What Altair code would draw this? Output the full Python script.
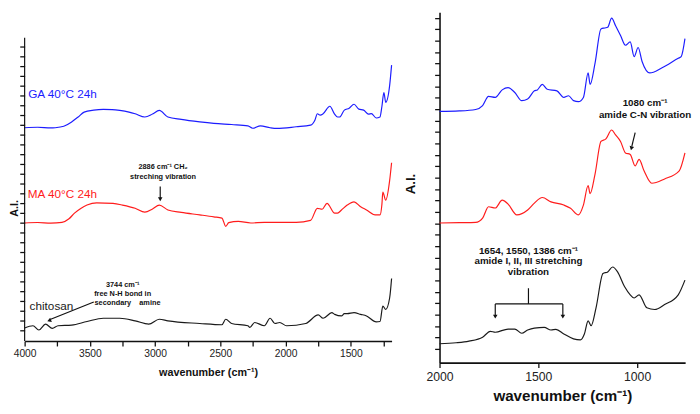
import altair as alt
import pandas as pd

FONT = "Liberation Sans"
SERIES = ["GA 40°C 24h", "MA 40°C 24h", "chitosan"]
COLORS = ["#1c1cff", "#ff1c1c", "#1a1a1a"]

# ---------------- Left panel: 4000 - 1190 cm-1 (arbitrary intensity units) ----------------
L_GA_W = [4000, 3900, 3800, 3766, 3700, 3640, 3590, 3544, 3470, 3397, 3330, 3271, 3200, 3153,
          3079, 3020, 2968, 2902, 2800, 2658, 2550, 2414, 2289, 2252, 2193, 2119, 2067, 1919,
          1809, 1775, 1757, 1735, 1713, 1661, 1625, 1602, 1587, 1550, 1513, 1476, 1439, 1402,
          1365, 1343, 1306, 1277, 1262, 1247, 1233, 1203, 1188]
L_GA_I = [218, 218.5, 217.8, 218, 219.5, 224, 229, 234, 236, 236.7, 236.5, 235.7, 234, 232.3,
          229, 232, 235.7, 229, 226.5, 224, 222.5, 221.3, 220, 217.5, 220, 218, 217.3, 219,
          220.7, 226, 232.3, 231, 232.3, 240, 232, 229, 229, 236, 238, 242, 237, 236,
          232, 232.5, 228, 229, 240, 254, 244, 261, 282]

L_MA_W = [4000, 3900, 3800, 3714, 3660, 3618, 3570, 3522, 3448, 3323, 3250, 3153, 3079, 3020,
          2968, 2902, 2800, 2658, 2550, 2488, 2459, 2436, 2363, 2267, 2163, 1919, 1809, 1757,
          1720, 1683, 1624, 1602, 1572, 1528, 1476, 1425, 1380, 1314, 1277, 1262, 1255, 1233,
          1203, 1188]
L_MA_I = [120.7, 121.2, 120.5, 121.3, 125, 130.7, 135.5, 139, 141.3, 140.7, 139, 135.7, 131.7, 135,
          139, 134, 131.5, 129, 127, 125.7, 117.3, 121, 122.3, 120.7, 121.3, 121.3, 123.3, 135.7,
          134.7, 140.7, 130.7, 130.7, 134, 139, 142.3, 137.3, 134, 129, 129, 140, 152.3, 144,
          164, 182.3]

L_CS_W = [4000, 3936, 3891, 3840, 3788, 3744, 3640, 3522, 3397, 3271, 3153, 3049, 2968, 2902,
          2658, 2488, 2459, 2414, 2289, 2274, 2237, 2163, 2119, 2082, 2045, 1993, 1846, 1750,
          1713, 1646, 1624, 1572, 1550, 1528, 1476, 1425, 1380, 1306, 1277, 1255, 1233, 1203,
          1188]
L_CS_I = [13.3, 15.7, 11.3, 17.3, 13, 15.7, 16.3, 20, 23.3, 23.3, 20.7, 17.3, 22.3, 20.7,
          18, 16.7, 22.3, 18, 15.7, 14, 19, 15.7, 23.3, 18, 19, 15.7, 18, 26.7,
          23.3, 29, 27.3, 25.7, 28, 28, 29, 27.3, 25.7, 19.7, 20, 35.7, 32.3, 44,
          64]

# ---------------- Right panel: 2000 - 758 cm-1 ----------------
R_GA_W = [2000, 1900, 1817, 1782, 1752, 1718, 1683, 1653, 1619, 1584, 1554, 1520, 1505, 1480,
          1455, 1406, 1371, 1347, 1322, 1297, 1272, 1248, 1238, 1213, 1183, 1163, 1149, 1129,
          1109, 1084, 1059, 1035, 1015, 995, 975, 936, 876, 792, 777, 758]
R_GA_I = [256.7, 257.2, 258.7, 262.7, 272, 271, 278.7, 281, 276, 267.7, 269.3, 277.7, 278.7, 284.3,
          279.3, 277.7, 271, 272.7, 267.7, 266.7, 271, 296, 284.3, 306, 341, 342, 342.7, 352,
          344.3, 334.3, 324.3, 327.7, 312.7, 322, 307.7, 296, 301, 311, 312.7, 331]

R_MA_W = [2000, 1900, 1817, 1782, 1752, 1718, 1683, 1653, 1609, 1554, 1520, 1480, 1436, 1371,
          1337, 1297, 1272, 1248, 1238, 1213, 1183, 1158, 1129, 1109, 1084, 1059, 1035, 1010,
          990, 965, 926, 861, 787, 758]
R_MA_I = [142.7, 143, 143.3, 147.7, 159.3, 158, 166, 162, 151, 156, 163, 168.7, 164.3, 161,
          157.7, 151, 161, 181, 172.7, 192.7, 226, 228.7, 237.7, 232.7, 226, 214.3, 212.7, 201,
          207.7, 196, 183.3, 187.7, 196, 214.3]

R_CS_W = [2000, 1916, 1851, 1782, 1743, 1718, 1653, 1619, 1584, 1554, 1520, 1470, 1436, 1411,
          1371, 1322, 1287, 1267, 1248, 1233, 1208, 1173, 1149, 1124, 1099, 1064, 1035, 1015,
          990, 951, 911, 861, 792, 758]
R_CS_I = [19.3, 20.3, 22, 26, 32, 31, 34.3, 34.3, 30, 33.3, 35.3, 36, 33.3, 34,
          29.3, 24.3, 23.3, 29.3, 42.7, 37.7, 56, 91, 92.7, 97.7, 92.7, 77.7, 69.3, 66,
          69.3, 56, 54.3, 59.3, 69.3, 84.3]

# series name labels (left panel)
NAME_W = [3973, 3976, 3962]
NAME_I = [252.5, 150, 36]

# annotations: text, wavenumber, intensity
L_NOTE_TEXT = ["2886 cm⁻¹ CH₂", "streching vibration",
               "3744 cm⁻¹", "free N-H bond in", "secondary\u00a0\u00a0\u00a0\u00a0amine"]
L_NOTE_W = [2939, 2939, 3249, 3249, 3212]
L_NOTE_I = [178, 168, 57, 48, 39]
R_NOTE_TEXT = ["1080 cm⁻¹", "amide C-N vibration",
               "1654, 1550, 1386 cm⁻¹", "amide I, II, III stretching", "vibration"]
R_NOTE_W = [960, 960, 1550, 1550, 1550]
R_NOTE_I = [265, 253, 114, 104, 93]

# arrow / bracket segments: (w1, i1, w2, i2)
L_SEG = [(2961, 158, 2961, 146), (3470, 40, 3805, 22),
         (4000, 0, 4000, 310)]  # last one: left intensity axis line (axis top is lower than panel)
L_HEAD = [(2961, 145, 0), (3812, 21, 68)]
R_SEG = [(1010, 235, 1027, 221), (1550, 76, 1550, 60), (1718, 60, 1376, 60),
         (1718, 60, 1718, 48), (1376, 60, 1376, 48)]
R_HEAD = [(1029, 219, 13), (1718, 47, 0), (1376, 47, 0)]


def spectra(ws, iss):
    rows = []
    for name, w, i in zip(SERIES, ws, iss):
        for k, (a, b) in enumerate(zip(w, i)):
            rows.append({"s": name, "w": a, "i": b, "o": k})
    return pd.DataFrame(rows)


def panel(df, wdom, idom, w_px, h_px, xticks, yticks, names, notes, segs, heads,
          lab_size, title_size, ai_size, ai_pad, ai_y, note_size, title_pad, ydomain_line):
    xs = alt.Scale(domain=wdom, nice=False, zero=False)
    ys = alt.Scale(domain=idom, nice=False, zero=False)
    xax = alt.Axis(title="wavenumber (cm⁻¹)", values=xticks, format="d",
                   labelExpr="datum.value % 500 == 0 ? datum.label : ''",
                   labelFontSize=lab_size, titleFontSize=title_size, titleFontWeight="bold",
                   tickSize=5, labelPadding=3, titlePadding=title_pad, labelFlush=False)
    yax = alt.Axis(title="A.I.", values=yticks, labels=False, tickSize=5,
                   titleFontSize=ai_size, titleFontWeight="bold", titlePadding=ai_pad,
                   titleY=ai_y, domain=ydomain_line)

    def X(f):
        return alt.X(f, type="quantitative", scale=xs, axis=xax)

    def Y(f):
        return alt.Y(f, type="quantitative", scale=ys, axis=yax)

    cscale = alt.Scale(domain=SERIES, range=COLORS)
    layers = [alt.Chart(df).mark_line(strokeWidth=1.2, interpolate="monotone").encode(
        x=X("w"), y=Y("i"), order="o:Q",
        color=alt.Color("s:N", scale=cscale, legend=None))]
    if names is not None:
        layers.append(alt.Chart(names).mark_text(align="left", baseline="middle", fontSize=12,
                                                 font=FONT).encode(
            x=X("w"), y=Y("i"), text="s:N",
            color=alt.Color("s:N", scale=cscale, legend=None)))
    layers.append(alt.Chart(notes).mark_text(align="center", baseline="middle",
                                             fontSize=note_size, fontWeight="bold",
                                             font=FONT, color="#111").encode(
        x=X("w"), y=Y("i"), text="t:N"))
    layers.append(alt.Chart(segs).mark_rule(color="#111", strokeWidth=1.2).encode(
        x=X("w1"), x2="w2", y=Y("i1"), y2="i2"))
    layers.append(alt.Chart(heads).mark_point(shape="triangle-down", filled=True, size=22,
                                              color="#111", opacity=1).encode(
        x=X("w"), y=Y("i"), angle=alt.Angle("a:Q", scale=None)))
    return alt.layer(*layers).properties(width=w_px, height=h_px)


dfL = spectra([L_GA_W, L_MA_W, L_CS_W], [L_GA_I, L_MA_I, L_CS_I])
dfR = spectra([R_GA_W, R_MA_W, R_CS_W], [R_GA_I, R_MA_I, R_CS_I])

namesL = pd.DataFrame({"s": SERIES, "w": NAME_W, "i": NAME_I})
notesL = pd.DataFrame({"t": L_NOTE_TEXT, "w": L_NOTE_W, "i": L_NOTE_I})
notesR = pd.DataFrame({"t": R_NOTE_TEXT, "w": R_NOTE_W, "i": R_NOTE_I})
segL = pd.DataFrame(L_SEG, columns=["w1", "i1", "w2", "i2"])
segR = pd.DataFrame(R_SEG, columns=["w1", "i1", "w2", "i2"])
headL = pd.DataFrame(L_HEAD, columns=["w", "i", "a"])
headR = pd.DataFrame(R_HEAD, columns=["w", "i", "a"])

left = panel(dfL, [4000, 1188], [0, 336], 375, 336,
             list(range(4000, 1187, -250)), [11 + 10 * k for k in range(30)],
             namesL, notesL, segL, headL,
             lab_size=10.5, title_size=11, ai_size=11, ai_pad=0, ai_y=200,
             note_size=7.5, title_pad=8, ydomain_line=False)

right = panel(dfR, [2000, 757], [0, 358], 251, 358,
              list(range(2000, 756, -500)), [round(14 + 11.67 * k, 2) for k in range(30)],
              None, notesR, segR, headR,
              lab_size=12.5, title_size=15.5, ai_size=13.5, ai_pad=17, ai_y=175,
              note_size=10, title_pad=6, ydomain_line=True)

chart = alt.hconcat(left, right, spacing=9).properties(padding=0).configure_view(
    stroke=None).configure_axis(
    grid=False, domainColor="#111", tickColor="#111", domainWidth=1.6, tickWidth=1.3,
    labelFont=FONT, titleFont=FONT, labelColor="#222", titleColor="#111")

chart.save("out.html", embed_options={"renderer": "svg", "actions": False})
